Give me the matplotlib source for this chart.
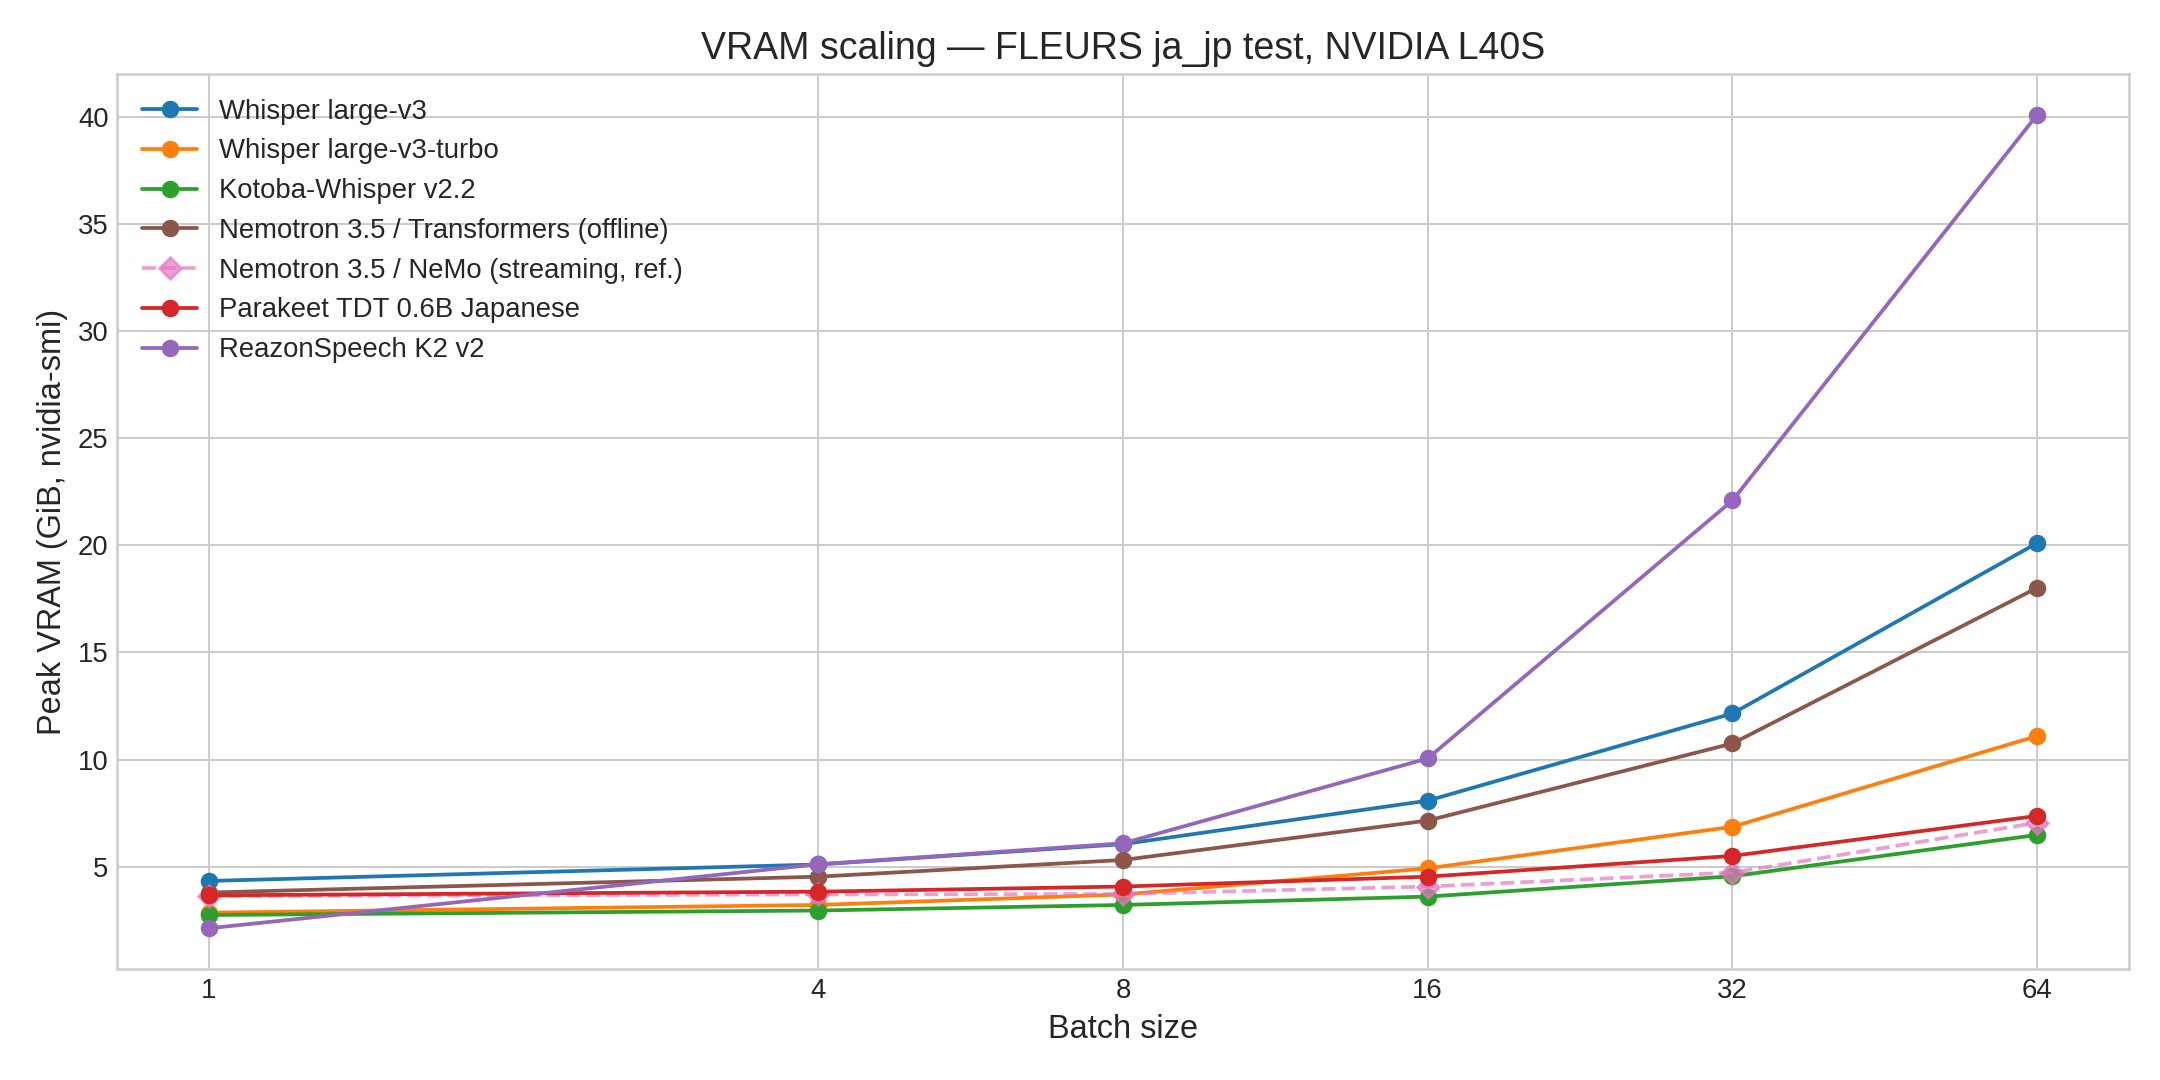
import matplotlib
matplotlib.use("Agg")
import matplotlib.pyplot as plt
from matplotlib.ticker import FixedLocator, FixedFormatter

# batch sizes on the x axis
batch_sizes = [1, 4, 8, 16, 32, 64]
x_tick_labels = ["1", "4", "8", "16", "32", "64"]

# peak VRAM (GiB) per model
whisper_v3 = [4.33, 5.10, 6.05, 8.08, 12.15, 20.11]
whisper_turbo = [2.85, 3.21, 3.70, 4.92, 6.86, 11.10]
kotoba_whisper = [2.74, 2.95, 3.21, 3.60, 4.55, 6.48]
nemotron_hf = [3.79, 4.53, 5.31, 7.15, 10.75, 18.02]
nemotron_nemo = [3.62, 3.70, 3.72, 4.07, 4.72, 7.05]
parakeet_ja = [3.66, 3.83, 4.07, 4.53, 5.50, 7.37]
reazon_k2 = [2.12, 5.11, 6.09, 10.05, 22.10, 40.11]

plt.style.use("seaborn-v0_8-whitegrid")
plt.rcParams["font.family"] = ["Liberation Sans", "DejaVu Sans"]

fig, ax = plt.subplots(figsize=(12, 6), dpi=180)

ax.plot(batch_sizes, whisper_v3, marker="o", color="tab:blue", label="Whisper large-v3")
ax.plot(batch_sizes, whisper_turbo, marker="o", color="tab:orange", label="Whisper large-v3-turbo")
ax.plot(batch_sizes, kotoba_whisper, marker="o", color="tab:green", label="Kotoba-Whisper v2.2")
ax.plot(batch_sizes, nemotron_hf, marker="o", color="tab:brown", label="Nemotron 3.5 / Transformers (offline)")
ax.plot(batch_sizes, nemotron_nemo, marker="D", linestyle="--", color="tab:pink", alpha=0.7,
        label="Nemotron 3.5 / NeMo (streaming, ref.)")
ax.plot(batch_sizes, parakeet_ja, marker="o", color="tab:red", label="Parakeet TDT 0.6B Japanese")
ax.plot(batch_sizes, reazon_k2, marker="o", color="tab:purple", label="ReazonSpeech K2 v2")

ax.set_xscale("log", base=2)
ax.xaxis.set_major_locator(FixedLocator(batch_sizes))
ax.xaxis.set_major_formatter(FixedFormatter(x_tick_labels))
ax.xaxis.set_minor_locator(FixedLocator([]))
ax.tick_params(labelsize=11)

ax.set_xlabel("Batch size", fontsize=13)
ax.set_ylabel("Peak VRAM (GiB, nvidia-smi)", fontsize=13)
ax.set_title("VRAM scaling — FLEURS ja_jp test, NVIDIA L40S", fontsize=15)
ax.legend(loc="upper left", fontsize=11)

fig.subplots_adjust(left=0.0543, right=0.9855, bottom=0.1028, top=0.9315)
fig.savefig("out.png", dpi=180)
